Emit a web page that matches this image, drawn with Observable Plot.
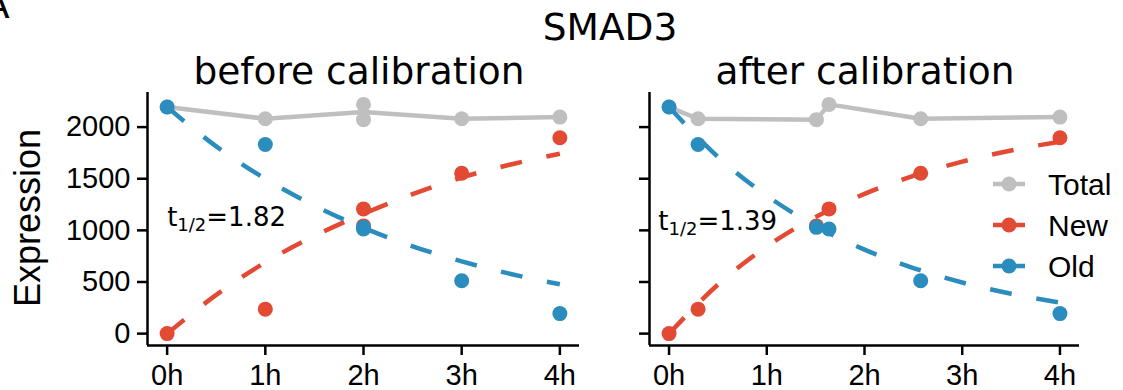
<!DOCTYPE html>
<html><head><meta charset="utf-8">
<script src="https://cdn.jsdelivr.net/npm/d3@7"></script>
<script src="https://cdn.jsdelivr.net/npm/@observablehq/plot@0.6"></script>
<style>
body{margin:0;background:#fff;}
#fig{position:relative;width:1123px;height:390px;overflow:hidden;background:#fff;}
#fig > svg{position:absolute;}
</style></head><body><div id="fig"></div>
<script>
// ---- data ----
const sampleHours = [0, 1, 2, 2, 3, 4];
const calibratedHours = [0, 0.297, 1.637, 1.508, 2.575, 4];
const totalExpr = [2194, 2081, 2220, 2072, 2081, 2097];
const newExpr = [0, 237, 1208, 1043, 1553, 1897];
const oldExpr = [2194, 1832, 1013, 1029, 512, 194];

const fitHours = [0, 0.5, 1, 1.5, 2, 2.5, 3, 3.5, 4];
const newFitBefore = [0, 375, 690, 945, 1160, 1350, 1512, 1638, 1742];
const oldFitBefore = [2194, 1813, 1499, 1239, 1024, 846, 700, 578, 478];
const newFitAfter = [0, 474, 844, 1129, 1353, 1528, 1665, 1774, 1858];
const oldFitAfter = [2194, 1712, 1336, 1042, 813, 635, 495, 386, 301];

const halfLives = ["1.82", "1.39"];
const halfLifeX = [0, -0.11];
const halfLifeY = [1126, 1086];

const xTicks = [0, 1, 2, 3, 4];
const xTickLabels = ["0h", "1h", "2h", "3h", "4h"];
const yTicks = [0, 500, 1000, 1500, 2000];
const xDomain = [-0.2, 4.2];
const yDomain = [-115, 2335];
const seriesNames = ["Total", "New", "Old"];
const panelTitles = ["before calibration", "after calibration"];
const geneName = "SMAD3";
const panelLetter = "A";
const yLabel = "Expression";

// ---- styles ----
const colors = {Total: "#bfbfbf", New: "#e34a33", Old: "#2b8cbe"};
const LW = 4.5, R = 7.5, DASH = "22,25";
const tickFont = "Liberation Sans, Arial, sans-serif";
const titleFont = "DejaVu Sans, sans-serif";
const titleSize = 37.5;

function panel(i) {
  const calibrated = i === 1;
  const samples = sampleHours.map((h, j) => ({
    x: calibrated ? calibratedHours[j] : h,
    total: totalExpr[j], nw: newExpr[j], old: oldExpr[j]
  }));
  const fit = fitHours.map((t, j) => ({
    t, nw: (calibrated ? newFitAfter : newFitBefore)[j], old: (calibrated ? oldFitAfter : oldFitBefore)[j]
  }));
  const solid = {stroke: colors.Total, strokeWidth: LW, strokeLinejoin: "round"};
  const dashed = c => ({stroke: colors[c], strokeWidth: LW, strokeDasharray: DASH, strokeLinecap: "butt", curve: "monotone-x"});
  const totalLine = calibrated
    ? Plot.line(d3.sort(samples, d => d.x), {x: "x", y: "total", ...solid})
    : Plot.line(samples, Plot.groupX({y: "mean"}, {x: "x", y: "total", ...solid}));
  const svg = Plot.plot({
    width: calibrated ? 523 : 600,
    height: 308,
    marginLeft: calibrated ? 49 : 147,
    marginRight: calibrated ? 44 : 21,
    marginTop: 10,
    marginBottom: 45,
    x: {domain: xDomain, label: null},
    y: {domain: yDomain, label: null},
    style: {fontFamily: tickFont, fontSize: "29px", color: "black", background: "transparent", overflow: "visible"},
    marks: [
      Plot.axisY({ticks: yTicks, tickSize: 10, tickPadding: 7, strokeWidth: 2.5,
        tickFormat: calibrated ? () => "" : d => String(d), fontSize: 29, fontFamily: tickFont}),
      Plot.axisX({ticks: xTicks, tickSize: 10, tickPadding: 9, strokeWidth: 2.5,
        tickFormat: d => xTickLabels[xTicks.indexOf(d)], fontSize: 29, fontFamily: tickFont}),
      Plot.ruleX([xDomain[0]], {stroke: "black", strokeWidth: 2.5}),
      Plot.ruleY([yDomain[0]], {stroke: "black", strokeWidth: 2.5}),
      totalLine,
      Plot.dot(samples, {x: "x", y: "total", r: R, fill: colors.Total}),
      Plot.line(fit, {x: "t", y: "nw", ...dashed("New")}),
      Plot.dot(samples, {x: "x", y: "nw", r: R, fill: colors.New}),
      Plot.line(fit, {x: "t", y: "old", ...dashed("Old")}),
      Plot.dot(samples, {x: "x", y: "old", r: R, fill: colors.Old}),
      Plot.text([{x: halfLifeX[i], y: halfLifeY[i], v: "t1/2=" + halfLives[i]}],
        {x: "x", y: "y", text: "v", textAnchor: "start", fontFamily: titleFont, fontSize: 26, fill: "black"})
    ]
  });
  // subscript for t1/2
  d3.select(svg).selectAll("text").filter(function () { return this.textContent.startsWith("t1/2="); })
    .each(function () {
      const val = this.textContent.split("=")[1];
      const t = d3.select(this);
      t.text(null);
      t.append("tspan").text("t");
      t.append("tspan").attr("font-size", "18px").attr("dy", 5).text("1/2");
      t.append("tspan").attr("dy", -5).text("=" + val);
    });
  svg.style.left = (calibrated ? 600 : 0) + "px";
  svg.style.top = "82px";
  return svg;
}

const fig = document.getElementById("fig");
fig.appendChild(panel(0));
fig.appendChild(panel(1));

// ---- titles, y label and legend ----
const ov = d3.select(fig).append("svg").attr("width", 1123).attr("height", 390)
  .style("left", "0px").style("top", "0px").style("pointer-events", "none");
ov.append("text").attr("x", -16).attr("y", 18).attr("font-family", titleFont).attr("font-size", titleSize).text(panelLetter);
ov.append("text").attr("x", 610).attr("y", 40).attr("text-anchor", "middle")
  .attr("font-family", titleFont).attr("font-size", titleSize).text(geneName);
[359, 865].forEach((cx, i) => ov.append("text").attr("x", cx).attr("y", 84).attr("text-anchor", "middle")
  .attr("font-family", titleFont).attr("font-size", titleSize).text(panelTitles[i]));
ov.append("text").attr("transform", "translate(40,218) rotate(-90)").attr("text-anchor", "middle")
  .attr("font-family", tickFont).attr("font-size", 36).text(yLabel);

const leg = ov.append("g");
seriesNames.forEach((s, i) => {
  const cy = 184 + i * 41;
  leg.append("line").attr("x1", 993).attr("x2", 1025).attr("y1", cy).attr("y2", cy)
    .attr("stroke", colors[s]).attr("stroke-width", LW);
  leg.append("circle").attr("cx", 1009).attr("cy", cy).attr("r", R).attr("fill", colors[s]);
  leg.append("text").attr("x", 1048).attr("y", cy).attr("dy", "0.36em")
    .attr("font-family", tickFont).attr("font-size", 30).text(s);
});
</script></body></html>
